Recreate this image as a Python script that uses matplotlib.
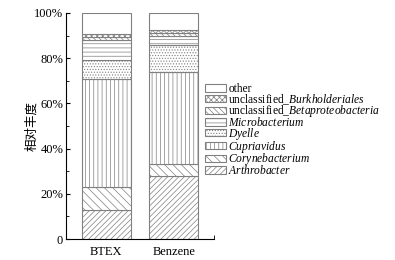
import matplotlib
matplotlib.use("Agg")
import matplotlib.pyplot as plt
from matplotlib.ticker import MultipleLocator, FuncFormatter

plt.rcParams['font.family'] = ['Liberation Serif', 'Noto Sans CJK SC']
plt.rcParams['mathtext.fontset'] = 'custom'
plt.rcParams['mathtext.rm'] = 'Liberation Serif'
plt.rcParams['mathtext.it'] = 'Liberation Serif:italic'
plt.rcParams['hatch.linewidth'] = 0.5
plt.rcParams['hatch.color'] = '#7a7a7a'

# Data (percent)
samples = ["BTEX", "Benzene"]
taxa = ["Arthrobacter", "Corynebacterium", "Cupriavidus", "Dyelle",
        "Microbacterium", "unclassified_Betaproteobacteria",
        "unclassified_Burkholderiales", "other"]
arthrobacter = [13.0, 28.0]
corynebacterium = [10.0, 5.0]
cupriavidus = [48.0, 41.0]
dyelle = [8.0, 12.0]
microbacterium = [9.0, 4.0]
betaproteobacteria = [1.5, 1.0]
burkholderiales = [1.0, 1.5]
other = [9.5, 7.5]

labels = [r"$\mathit{Arthrobacter}$", r"$\mathit{Corynebacterium}$",
          r"$\mathit{Cupriavidus}$", r"$\mathit{Dyelle}$",
          r"$\mathit{Microbacterium}$", r"unclassified_$\mathit{Betaproteobacteria}$",
          r"unclassified_$\mathit{Burkholderiales}$", "other"]
series = [arthrobacter, corynebacterium, cupriavidus, dyelle,
          microbacterium, betaproteobacteria, burkholderiales, other]
hatches = ["//////", "\\\\\\\\", "||||", "......", "----", "\\\\\\\\\\\\", "xxxxxx", ""]

fig = plt.figure(figsize=(3.95, 2.6), dpi=100)
ax = fig.add_axes([66 / 395, 21 / 260, 148 / 395, 226 / 260])

x = [0, 1]
bottom = [0.0, 0.0]
handles = []
for vals, lab, h in zip(series, labels, hatches):
    b = ax.bar(x, vals, width=0.73, bottom=bottom, color="white",
               edgecolor="#808080", linewidth=0.8, hatch=h, label=lab)
    handles.append(b)
    bottom = [bottom[i] + vals[i] for i in range(2)]

ax.set_xlim(-0.6, 1.6)
ax.set_ylim(0, 100)
ax.set_xticks(x)
ax.set_xticklabels(samples, fontsize=9)
ax.set_xticks([1.6], minor=True)
ax.tick_params(axis='x', which='major', length=0, pad=5)
ax.tick_params(axis='x', which='minor', direction='in', length=3)
ax.yaxis.set_major_locator(MultipleLocator(20))
ax.yaxis.set_minor_locator(MultipleLocator(10))
ax.yaxis.set_major_formatter(FuncFormatter(lambda v, p: "0" if v == 0 else f"{v:.0f}%"))
ax.tick_params(axis='y', which='both', direction='in', labelsize=9, pad=2)
ax.tick_params(axis='y', which='major', length=3)
ax.tick_params(axis='y', which='minor', length=2)
ax.spines['top'].set_visible(False)
ax.spines['right'].set_visible(False)
ax.set_ylabel("相对丰度", family=['Noto Sans CJK SC'], fontsize=9, labelpad=-3)

leg = ax.legend(handles[::-1], labels[::-1], loc='upper left',
                bbox_to_anchor=(0.91, 0.71), frameon=False, fontsize=8.3,
                handlelength=1.8, handleheight=0.6, handletextpad=0.2,
                labelspacing=-0.28, borderaxespad=0)

fig.savefig("out.png", dpi=100)
